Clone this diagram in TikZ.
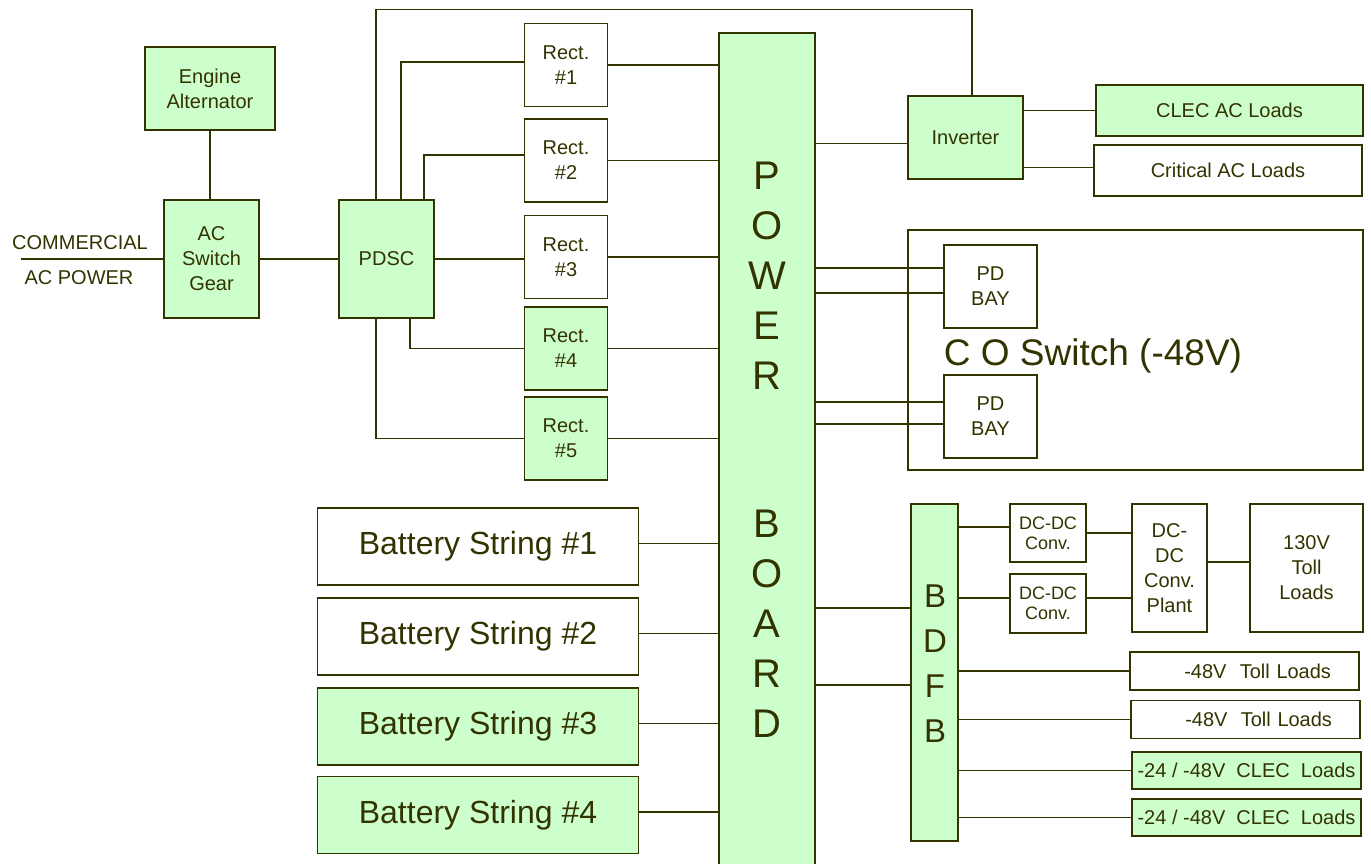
\documentclass[tikz,border=0pt]{standalone}
\usepackage{fontspec}
\setmainfont{Liberation Sans}
\definecolor{ink}{HTML}{333300}
\definecolor{mint}{HTML}{CCFFCC}

\begin{document}
\begin{tikzpicture}[
  x=1pt, y=-1pt,
  every node/.style={align=center, text=ink, font=\fontsize{20}{25}\selectfont},
  box/.style    ={draw=ink, line width=1.5pt, fill=white, inner sep=0pt},
  gbox/.style   ={box, fill=mint},
  wire/.style   ={draw=ink, line width=1.5pt},
  bigtxt/.style ={font=\fontsize{32}{38}\selectfont},
  smalltxt/.style={font=\fontsize{18}{20}\selectfont},
  tallword/.style={font=\fontsize{40}{50}\selectfont},
  loadbox/.style={box, minimum width=229pt, minimum height=38pt},
]
\useasboundingbox (0,0) rectangle (1371,863);

\node[gbox, minimum width=130pt, minimum height=83pt] (engine) at (210,88.5) {Engine\\Alternator};
\node[gbox, minimum width=95pt, minimum height=118pt] (acswitch) at (211.5,259) {AC\\Switch\\Gear};
\node[gbox, minimum width=95pt, minimum height=118pt] (pdsc) at (386.5,259) {PDSC};
\coordinate (acin) at (21,259);
\node (comm) at (80,243) {COMMERCIAL};
\node (acpower) at (79,277.5) {AC POWER};

\foreach \n/\y/\s in {1/65/box, 2/160.5/box, 3/257/box, 4/348.5/gbox, 5/438.5/gbox}
  \node[\s, minimum width=83pt, minimum height=83pt] (rect\n) at (566,\y) {Rect.\\\#\n};

\node[gbox, minimum width=96pt, minimum height=840pt, anchor=north] (power) at (767,32) {};
\node[tallword] (powerword) at (767,276) {P\\O\\W\\E\\R};
\node[tallword] (boardword) at (767,624) {B\\O\\A\\R\\D};

\foreach \n/\y/\s in {1/546.5/box, 2/636.5/box, 3/726.5/gbox, 4/815/gbox}
  \node[\s, bigtxt, minimum width=321pt, minimum height=77pt] (bat\n) at (478,\y) {Battery String \#\n};

\node[gbox, minimum width=115pt, minimum height=83pt] (inverter) at (965.5,137.5) {Inverter};
\node[gbox, minimum width=267pt, minimum height=51pt] (clecac) at (1229.5,110.5) {CLEC AC Loads};
\node[box, minimum width=268pt, minimum height=51pt] (critac) at (1228,170.5) {Critical AC Loads};

\node[box, minimum width=455pt, minimum height=240pt] (coswitch) at (1135.5,350) {};
\node[font=\fontsize{37}{44}\selectfont, anchor=base] (cotext) at (1093,365) {C O Switch (-48V)};
\node[box, minimum width=93pt, minimum height=83pt] (pdbay1) at (990.5,286.5) {PD\\BAY};
\node[box, minimum width=93pt, minimum height=83pt] (pdbay2) at (990.5,416.5) {PD\\BAY};

\node[gbox, minimum width=47pt, minimum height=337pt] (bdfb) at (934.5,672.5) {};
\node[font=\fontsize{33}{45}\selectfont] (bdfbword) at (935,663.5) {B\\D\\F\\B};
\node[box, smalltxt, minimum width=76pt, minimum height=58pt] (conv1) at (1048,533) {DC-DC\\Conv.};
\node[box, smalltxt, minimum width=76pt, minimum height=59pt] (conv2) at (1048,603.5) {DC-DC\\Conv.};
\node[box, minimum width=75pt, minimum height=128pt] (plant) at (1169.5,568) {DC-\\DC\\Conv.\\Plant};
\node[box, minimum width=113pt, minimum height=128pt] (toll130) at (1306.5,568) {130V\\Toll\\Loads};

\node[loadbox, text width=173pt, align=right] (toll1) at (1244.5,671) {-48V\ \ Toll Loads};
\node[loadbox, text width=173pt, align=right] (toll2) at (1245.5,719.5) {-48V\ \ Toll Loads};
\node[loadbox, fill=mint, minimum height=37pt] (clec1) at (1246.5,770.5) {-24 / -48V\ \ CLEC\ \ Loads};
\node[loadbox, fill=mint, minimum height=37pt] (clec2) at (1246.5,817.5) {-24 / -48V\ \ CLEC\ \ Loads};

\draw[wire] (engine.south) -- (engine.south |- acswitch.north);
\draw[wire] (acin) -- (acswitch.west);
\draw[wire] (acswitch.east) -- (pdsc.west);

\draw[wire] ([xshift=-10.5pt]pdsc.north) -- ++(0,-190) -| ([xshift=6.5pt]inverter.north);
\draw[wire] ([xshift=14.5pt]pdsc.north) |- ([yshift=3pt]rect1.west);
\draw[wire] ([xshift=37.5pt]pdsc.north) |- ([yshift=5.5pt]rect2.west);
\draw[wire] (pdsc.east) -- (pdsc.east -| rect3.west);
\draw[wire] ([xshift=23.5pt]pdsc.south) |- (rect4.west);
\draw[wire] ([xshift=-10.5pt]pdsc.south) |- (rect5.west);

\foreach \n in {1,...,5}
  \draw[wire] (rect\n.east) -- (rect\n.east -| power.west);
\foreach \n in {1,...,4}
  \draw[wire] ([yshift=3pt]bat\n.east) -- ([yshift=3pt]bat\n.east -| power.west);

\draw[wire] ([yshift=-6pt]inverter.west) -- ([yshift=-6pt]inverter.west -| power.east);
\draw[wire] (clecac.west) -- (clecac.west -| inverter.east);
\draw[wire] ([yshift=3pt]critac.west) -- ([yshift=3pt]critac.west -| inverter.east);

\foreach \s in {18.5,-6.5}
  \draw[wire] ([yshift=\s pt]pdbay1.west) -- ([yshift=\s pt]pdbay1.west -| power.east);
\foreach \s in {14.5,-7.5}
  \draw[wire] ([yshift=\s pt]pdbay2.west) -- ([yshift=\s pt]pdbay2.west -| power.east);
\foreach \s in {64.5,-12.5}
  \draw[wire] ([yshift=\s pt]bdfb.west) -- ([yshift=\s pt]bdfb.west -| power.east);

\draw[wire] ([yshift=6pt]conv1.west) -- ([yshift=6pt]conv1.west -| bdfb.east);
\draw[wire] ([yshift=5.5pt]conv2.west) -- ([yshift=5.5pt]conv2.west -| bdfb.east);
\draw[wire] (conv1.east) -- (conv1.east -| plant.west);
\draw[wire] ([yshift=5.5pt]conv2.east) -- ([yshift=5.5pt]conv2.east -| plant.west);
\draw[wire] ([yshift=6pt]plant.east) -- ([yshift=6pt]plant.east -| toll130.west);
\foreach \n in {toll1,toll2,clec1,clec2}
  \draw[wire] (\n.west) -- (\n.west -| bdfb.east);

\end{tikzpicture}
\end{document}
